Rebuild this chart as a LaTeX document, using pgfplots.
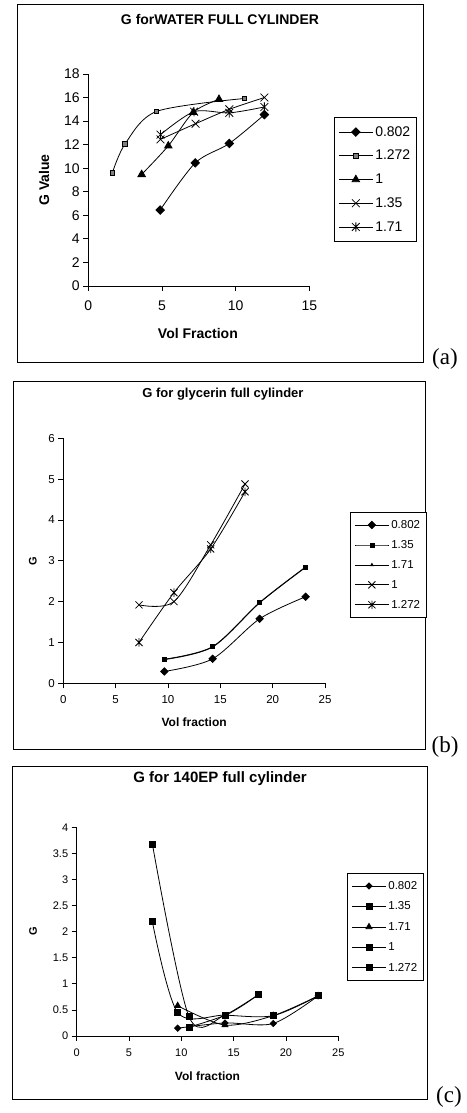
\documentclass[border=0pt]{standalone}
\usepackage{fontspec}
\setmainfont{Liberation Sans}
\newfontfamily\timesfont{Liberation Serif}
\usepackage{pgfplots}
\pgfplotsset{compat=1.18}

% Excel-style star: an x with a vertical bar
\pgfdeclareplotmark{xstar}{%
  \pgfpathmoveto{\pgfqpoint{-.707\pgfplotmarksize}{-.707\pgfplotmarksize}}%
  \pgfpathlineto{\pgfqpoint{.707\pgfplotmarksize}{.707\pgfplotmarksize}}%
  \pgfpathmoveto{\pgfqpoint{-.707\pgfplotmarksize}{.707\pgfplotmarksize}}%
  \pgfpathlineto{\pgfqpoint{.707\pgfplotmarksize}{-.707\pgfplotmarksize}}%
  \pgfpathmoveto{\pgfqpoint{0pt}{-.85\pgfplotmarksize}}%
  \pgfpathlineto{\pgfqpoint{0pt}{.85\pgfplotmarksize}}%
  \pgfusepathqstroke}

\pgfplotsset{
  panel/.style={
    scale only axis, anchor=south west,
    axis lines=left, axis line style={-, line width=0.8pt},
    tick align=outside, major tick length=5pt,
    tick style={black, line width=0.8pt},
    /pgf/number format/assume math mode=true,
    xmin=0, ymin=0, clip=false,
    legend cell align=left,
    legend style={draw=black, line width=0.8pt, anchor=north west,
      inner xsep=4pt, inner ysep=6pt},
    every axis plot/.append style={line width=0.8pt, black, smooth, tension=0.5},
    legend image code/.code={\draw[mark repeat=2,mark phase=2,##1]
      plot coordinates {(0pt,0pt) (17pt,0pt) (34pt,0pt)};},
    title style={anchor=center, font=\bfseries\fontsize{14}{15}\selectfont},
    xlabel style={anchor=center},
    ylabel style={anchor=center},
  },
}

\begin{document}
\begin{tikzpicture}
\path[use as bounding box] (0,0) rectangle (466pt,1113pt);

% frames and panel letters
\draw[line width=1pt] (17pt,750pt) rectangle (423pt,1108pt);
\draw[line width=1pt] (13.3pt,363.7pt) rectangle (425.7pt,731.3pt);
\draw[line width=1pt] (12.7pt,13pt) rectangle (427.7pt,346.3pt);
\node[font=\timesfont\fontsize{23}{23}\selectfont] at (445pt,754pt) {(a)};
\node[font=\timesfont\fontsize{23}{23}\selectfont] at (445pt,366pt) {(b)};
\node[font=\timesfont\fontsize{23}{23}\selectfont] at (449pt,16pt) {(c)};

% (a) water
\begin{axis}[panel, at={(88.3pt,827pt)}, width=221pt, height=212pt,
  xmax=15, ymax=18, xtick={0,5,10,15}, ytick={0,2,...,18},
  tick label style={font=\fontsize{14}{14}\selectfont},
  xticklabel style={yshift=-6pt},
  title={G forWATER FULL CYLINDER},
  title style={at={(axis description cs:0.596,1.231)}},
  xlabel={Vol Fraction}, ylabel={G Value},
  xlabel style={at={(axis description cs:0.496,-0.222)}, font=\bfseries\fontsize{14}{14}\selectfont},
  ylabel style={at={(axis description cs:-0.2,0.5)}, font=\bfseries\fontsize{14}{14}\selectfont},
  legend style={at={(axis description cs:1.112,0.797)}, font=\fontsize{14}{16}\selectfont,
    row sep=8.5pt, inner ysep=7pt},
]
\addplot[mark=square*, mark size=3pt, mark options={rotate=45}] coordinates {
  (4.88,6.45) (7.26,10.45) (9.57,12.1) (11.95,14.55)};
\addlegendentry{0.802}
\addplot[mark=square*, mark size=2.3pt, mark options={fill=gray}] coordinates {
  (1.63,9.6) (2.5,12.07) (4.63,14.82) (10.59,15.92)};
\addlegendentry{1.272}
\addplot[mark=triangle*, mark size=4.3pt] coordinates {
  (3.62,9.47) (5.43,11.9) (7.13,14.75) (8.87,15.85)};
\addlegendentry{1}
\addplot[mark=x, mark size=5.5pt] coordinates {
  (4.9,12.45) (7.28,13.78) (9.57,15.0) (11.95,16.0)};
\addlegendentry{1.35}
\addplot[mark=xstar, mark size=5.5pt] coordinates {
  (4.9,12.85) (7.18,14.8) (9.57,14.7) (11.95,15.2)};
\addlegendentry{1.71}
\end{axis}

% (b) glycerin
\begin{axis}[panel, at={(63.3pt,429.7pt)}, width=261.7pt, height=245pt,
  xmax=25, ymax=6, xtick={0,5,...,25}, ytick={0,1,...,6},
  tick label style={font=\fontsize{11.5}{12}\selectfont},
  xticklabel style={yshift=-4pt},
  title={G for glycerin full cylinder},
  title style={at={(axis description cs:0.61,1.156)}, font=\bfseries\fontsize{13}{14}\selectfont},
  xlabel={Vol fraction}, ylabel={G},
  xlabel style={at={(axis description cs:0.5,-0.158)}, font=\bfseries\fontsize{12}{12}\selectfont},
  ylabel style={at={(axis description cs:-0.116,0.5)}, font=\bfseries\fontsize{11}{12}\selectfont},
  legend style={at={(axis description cs:1.096,0.7)}, font=\fontsize{11.5}{13}\selectfont,
    row sep=6.5pt},
]
\addplot[mark=square*, mark size=2.6pt, mark options={rotate=45}] coordinates {
  (9.65,0.29) (14.27,0.6) (18.76,1.58) (23.15,2.12)};
\addlegendentry{0.802}
\addplot[mark=square*, mark size=2pt] coordinates {
  (9.65,0.59) (14.27,0.9) (18.76,1.98) (23.15,2.85)};
\addlegendentry{1.35}
\addplot[mark=triangle*, mark size=1.5pt] coordinates {
  (9.65,0.58) (14.27,0.89) (18.76,1.97) (23.15,2.84)};
\addlegendentry{1.71}
\addplot[mark=x, mark size=5pt] coordinates {
  (7.23,1.92) (10.57,2.0) (14.08,3.39) (17.36,4.88)};
\addlegendentry{1}
\addplot[mark=xstar, mark size=5pt] coordinates {
  (7.23,1.0) (10.57,2.22) (14.08,3.29) (17.36,4.69)};
\addlegendentry{1.272}
\end{axis}

% (c) 140EP
\begin{axis}[panel, at={(76.7pt,77pt)}, width=261.6pt, height=208.7pt,
  xmax=25, ymax=4, xtick={0,5,...,25}, ytick={0,0.5,...,4},
  tick label style={font=\fontsize{11}{12}\selectfont},
  xticklabel style={yshift=-4pt},
  title={G for 140EP full cylinder},
  title style={at={(axis description cs:0.548,1.203)}, font=\bfseries\fontsize{15}{16}\selectfont},
  xlabel={Vol fraction}, ylabel={G},
  xlabel style={at={(axis description cs:0.5,-0.195)}, font=\bfseries\fontsize{12}{12}\selectfont},
  ylabel style={at={(axis description cs:-0.167,0.5)}, font=\bfseries\fontsize{11}{12}\selectfont},
  legend style={at={(axis description cs:1.034,0.782)}, font=\fontsize{11.5}{13}\selectfont,
    row sep=7pt},
]
\addplot[mark=square*, mark size=2.2pt, mark options={rotate=45}] coordinates {
  (9.65,0.15) (14.17,0.25) (18.78,0.24) (23.08,0.77)};
\addlegendentry{0.802}
\addplot[mark=square*, mark size=3pt] coordinates {
  (10.73,0.17) (14.17,0.40) (17.35,0.79)};
\addlegendentry{1.35}
\addplot[mark=triangle*, mark size=3.5pt] coordinates {
  (9.65,0.58) (14.17,0.21) (18.78,0.39) (23.08,0.77)};
\addlegendentry{1.71}
\addplot[mark=square*, mark size=3pt] coordinates {
  (7.23,3.68) (10.73,0.37) (14.17,0.40) (17.35,0.79)};
\addlegendentry{1}
\addplot[mark=square*, mark size=3pt] coordinates {
  (7.23,2.19) (9.65,0.45) (14.17,0.40) (18.78,0.39) (23.08,0.77)};
\addlegendentry{1.272}
\end{axis}
\end{tikzpicture}
\end{document}
